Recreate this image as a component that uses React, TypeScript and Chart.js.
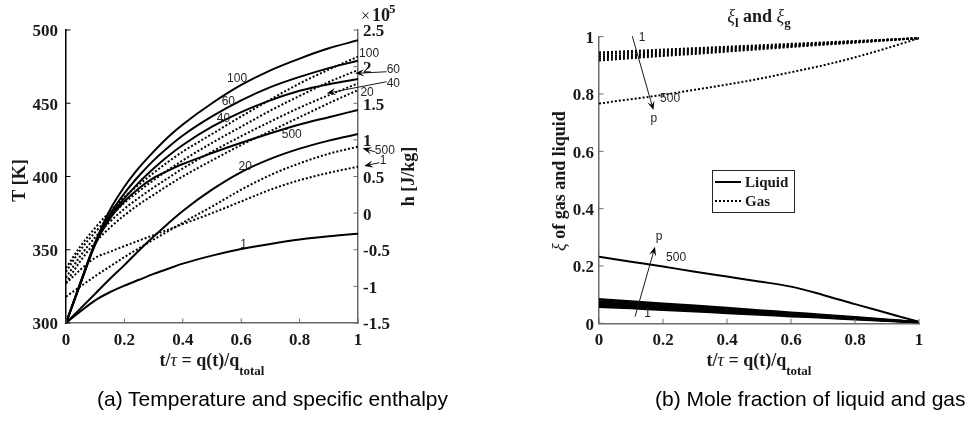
import React, { useEffect, useRef } from "react";
import { Chart, registerables } from "chart.js";

Chart.register(...registerables);

// ---------------- Panel (a) data ----------------
const X_A = [0, 0.05, 0.1, 0.15, 0.2, 0.25, 0.3, 0.35, 0.4, 0.5, 0.6, 0.7, 0.8, 0.9, 1];

// Temperature [K] for pressures 1, 20, 40, 60, 100, 500
const T_P1 = [300, 308, 315.5, 321, 325.5, 329.5, 333.5, 337, 340.5, 346, 350.5, 354, 357, 359.2, 361];
const T_P20 = [300, 310, 320, 330, 339.5, 349.5, 359, 368, 376.5, 391, 403, 412, 419, 424.5, 429];
const T_P40 = [300, 327.5, 354, 372.5, 385, 396, 405.5, 414, 421.5, 434, 444, 452, 458.5, 463, 466.5];
const T_P60 = [300, 327.5, 354.5, 374, 388.5, 400.5, 411, 420, 428, 441, 452, 461, 468, 474, 479];
const T_P100 = [300, 328, 355, 377, 393, 406, 417, 427, 435.5, 450, 462.5, 472.5, 480.5, 487.5, 493];
const T_P500 = [300, 327, 353.5, 371, 383, 392, 399, 404, 408.5, 416, 423, 429.5, 435.5, 440.5, 445.4];

// Specific enthalpy h [x1e5 J/kg]
const H_P1 = [-0.96, -0.77, -0.61, -0.53, -0.45, -0.375, -0.3, -0.225, -0.15, 0.0, 0.16, 0.32, 0.45, 0.55, 0.634];
const H_P20 = [-0.95, -0.65, -0.4, -0.2, -0.03, 0.12, 0.25, 0.38, 0.5, 0.72, 0.93, 1.12, 1.31, 1.5, 1.68];
const H_P40 = [-0.88, -0.58, -0.33, -0.12, 0.06, 0.21, 0.35, 0.48, 0.61, 0.84, 1.05, 1.25, 1.44, 1.61, 1.77];
const H_P60 = [-0.8, -0.5, -0.26, -0.05, 0.14, 0.3, 0.45, 0.59, 0.72, 0.96, 1.18, 1.4, 1.6, 1.79, 1.954];
const H_P100 = [-0.75, -0.45, -0.2, 0.02, 0.22, 0.39, 0.55, 0.7, 0.84, 1.08, 1.32, 1.55, 1.77, 1.96, 2.136];
const H_P500 = [-1.14, -1.0, -0.86, -0.73, -0.6, -0.48, -0.36, -0.245, -0.13, 0.09, 0.32, 0.52, 0.68, 0.81, 0.907];

const X_TICKS = [0, 0.2, 0.4, 0.6, 0.8, 1];
const T_TICKS = [300, 350, 400, 450, 500];
const H_TICKS = [-1.5, -1, -0.5, 0, 0.5, 1, 1.5, 2, 2.5];

// curve labels (data coords: x, T)
const A_LABELS = [
  { text: "100", x: 0.586, y: 466.5 },
  { text: "60", x: 0.556, y: 451 },
  { text: "40", x: 0.539, y: 439.7 },
  { text: "500", x: 0.773, y: 428.3 },
  { text: "20", x: 0.614, y: 406.5 },
  { text: "1", x: 0.608, y: 353.2 },
  { text: "100", x: 1.038, y: 484.1 },
  { text: "60", x: 1.121, y: 472.7 },
  { text: "40", x: 1.121, y: 463.6 },
  { text: "20", x: 1.031, y: 457.2 },
  { text: "500", x: 1.092, y: 417.4 },
  { text: "1", x: 1.086, y: 411.1 },
];
const A_ARROWS = [
  { x1: 1.098, y1: 471.5, x2: 0.99, y2: 470.4 },
  { x1: 1.098, y1: 464.7, x2: 0.893, y2: 456.8 },
  { x1: 1.058, y1: 416.9, x2: 1.016, y2: 419.2 },
  { x1: 1.073, y1: 409.4, x2: 1.021, y2: 407.2 },
];

// ---------------- Panel (b) data ----------------
const X_B = [0, 0.1, 0.2, 0.3, 0.4, 0.5, 0.6, 0.7, 0.8, 0.9, 1];

const GAS_P1 = [0.945, 0.95, 0.955, 0.96, 0.965, 0.97, 0.975, 0.98, 0.985, 0.99, 0.995];
const GAS_P20 = [0.938, 0.944, 0.949, 0.955, 0.961, 0.966, 0.972, 0.978, 0.984, 0.989, 0.995];
const GAS_P40 = [0.931, 0.937, 0.944, 0.95, 0.957, 0.963, 0.969, 0.976, 0.982, 0.989, 0.995];
const GAS_P60 = [0.924, 0.931, 0.938, 0.945, 0.952, 0.96, 0.967, 0.974, 0.981, 0.988, 0.995];
const GAS_P100 = [0.917, 0.925, 0.933, 0.94, 0.948, 0.956, 0.964, 0.972, 0.979, 0.987, 0.995];
const GAS_P500 = [0.767, 0.782, 0.797, 0.815, 0.833, 0.853, 0.876, 0.9, 0.928, 0.96, 0.995];

const LIQ_P1 = [0.058, 0.053, 0.047, 0.042, 0.036, 0.031, 0.025, 0.02, 0.014, 0.009, 0.004];
const LIQ_P20 = [0.064, 0.058, 0.052, 0.046, 0.04, 0.034, 0.028, 0.022, 0.016, 0.01, 0.004];
const LIQ_P40 = [0.07, 0.064, 0.057, 0.05, 0.044, 0.037, 0.031, 0.024, 0.017, 0.011, 0.004];
const LIQ_P60 = [0.076, 0.069, 0.062, 0.055, 0.048, 0.041, 0.034, 0.026, 0.019, 0.011, 0.004];
const LIQ_P100 = [0.084, 0.076, 0.068, 0.061, 0.053, 0.045, 0.037, 0.029, 0.021, 0.012, 0.004];
const LIQ_P500 = [0.232, 0.215, 0.198, 0.18, 0.163, 0.146, 0.128, 0.099, 0.067, 0.036, 0.005];

const XI_TICKS = [0, 0.2, 0.4, 0.6, 0.8, 1];

const B_LABELS = [
  { text: "1", x: 0.135, y: 0.998 },
  { text: "500", x: 0.222, y: 0.782 },
  { text: "p", x: 0.171, y: 0.713 },
  { text: "p", x: 0.1875, y: 0.302 },
  { text: "500", x: 0.241, y: 0.229 },
  { text: "1", x: 0.152, y: 0.032 },
];
const B_ARROWS = [
  { x1: 0.104, y1: 1.002, x2: 0.17, y2: 0.744 },
  { x1: 0.1125, y1: 0.023, x2: 0.175, y2: 0.267 },
];

// ---------------- styling helpers ----------------
const SERIF = "'Liberation Serif', 'Times New Roman', serif";
const SANS = "'Liberation Sans', Arial, sans-serif";
const TICK_FONT = { family: SERIF, size: 17, weight: "bold" as const };
const LABEL_FONT = `12px ${SANS}`;
const TXT = "#1a1a1a";

type Part = { t: string; font: string; dy?: number };

function drawParts(ctx: CanvasRenderingContext2D, parts: Part[], cx: number, baseline: number) {
  let w = 0;
  for (const p of parts) {
    ctx.font = p.font;
    w += ctx.measureText(p.t).width;
  }
  let x = cx - w / 2;
  ctx.textAlign = "left";
  ctx.textBaseline = "alphabetic";
  for (const p of parts) {
    ctx.font = p.font;
    ctx.fillText(p.t, x, baseline + (p.dy || 0));
    x += ctx.measureText(p.t).width;
  }
}

function drawRotated(ctx: CanvasRenderingContext2D, parts: Part[], cx: number, cy: number, off: number) {
  ctx.save();
  ctx.translate(cx, cy);
  ctx.rotate(-Math.PI / 2);
  drawParts(ctx, parts, 0, off);
  ctx.restore();
}

function drawArrow(ctx: CanvasRenderingContext2D, x1: number, y1: number, x2: number, y2: number) {
  const ang = Math.atan2(y2 - y1, x2 - x1);
  const head = 9;
  const hw = 3.6;
  const c = Math.cos(ang);
  const s = Math.sin(ang);
  ctx.beginPath();
  ctx.moveTo(x1, y1);
  ctx.lineTo(x2 - c * head * 0.6, y2 - s * head * 0.6);
  ctx.stroke();
  ctx.beginPath();
  ctx.moveTo(x2, y2);
  ctx.lineTo(x2 - c * head - s * hw, y2 - s * head + c * hw);
  ctx.lineTo(x2 - c * head * 0.6, y2 - s * head * 0.6);
  ctx.lineTo(x2 - c * head + s * hw, y2 - s * head - c * hw);
  ctx.closePath();
  ctx.fill();
}

function inwardTicks(ctx: CanvasRenderingContext2D, scale: any, values: number[], side: string, color: string) {
  const L = 4.5;
  ctx.save();
  ctx.strokeStyle = color;
  ctx.lineWidth = 1;
  for (const v of values) {
    const p = scale.getPixelForValue(v);
    ctx.beginPath();
    if (side === "bottom") {
      ctx.moveTo(p, scale.top);
      ctx.lineTo(p, scale.top - L);
    } else if (side === "left") {
      ctx.moveTo(scale.right, p);
      ctx.lineTo(scale.right + L, p);
    } else {
      ctx.moveTo(scale.left, p);
      ctx.lineTo(scale.left - L, p);
    }
    ctx.stroke();
  }
  ctx.restore();
}

function series(xs: number[], ys: number[], axis: string, dotted: boolean, name: string, width = 2) {
  return {
    label: name,
    data: xs.map((x, i) => ({ x, y: ys[i] })),
    yAxisID: axis,
    borderColor: "#000",
    borderWidth: width,
    borderDash: dotted ? [2, 2] : [],
    pointRadius: 0,
    fill: false,
    cubicInterpolationMode: "monotone" as const,
  };
}

function fixedTicks(values: number[]) {
  return (s: any) => {
    s.ticks = values.map((value) => ({ value }));
  };
}

// ---------------- plugins ----------------
const panelAPlugin = {
  id: "panelA",
  afterDraw(chart: any) {
    const ctx: CanvasRenderingContext2D = chart.ctx;
    const xs = chart.scales.x;
    const ys = chart.scales.y;
    const ys1 = chart.scales.y1;
    const ca = chart.chartArea;
    inwardTicks(ctx, xs, X_TICKS, "bottom", "#6b6b6b");
    inwardTicks(ctx, ys, T_TICKS, "left", "#000");
    inwardTicks(ctx, ys1, H_TICKS, "right", "#6b6b6b");

    ctx.save();
    ctx.fillStyle = "#262626";
    ctx.strokeStyle = "#1a1a1a";
    ctx.lineWidth = 1;
    ctx.font = LABEL_FONT;
    ctx.textAlign = "center";
    ctx.textBaseline = "middle";
    for (const l of A_LABELS) {
      ctx.fillText(l.text, xs.getPixelForValue(l.x), ys.getPixelForValue(l.y));
    }
    ctx.fillStyle = "#000";
    for (const a of A_ARROWS) {
      drawArrow(ctx, xs.getPixelForValue(a.x1), ys.getPixelForValue(a.y1), xs.getPixelForValue(a.x2), ys.getPixelForValue(a.y2));
    }

    ctx.fillStyle = TXT;
    // x axis title
    drawParts(
      ctx,
      [
        { t: "t/", font: `bold 18px ${SERIF}` },
        { t: "τ", font: `italic 18px ${SERIF}` },
        { t: " = q(t)/q", font: `bold 18px ${SERIF}` },
        { t: "total", font: `bold 13px ${SERIF}`, dy: 9 },
      ],
      (ca.left + ca.right) / 2,
      366
    );
    // y axis titles
    drawRotated(ctx, [{ t: "T [K]", font: `bold 18px ${SERIF}` }], 19, (ca.top + ca.bottom) / 2 + 4, 6);
    drawRotated(ctx, [{ t: "h [J/kg]", font: `bold 18px ${SERIF}` }], 408, (ca.top + ca.bottom) / 2, 6);
    // exponent
    ctx.textAlign = "left";
    ctx.textBaseline = "alphabetic";
    ctx.font = `16px ${SERIF}`;
    ctx.fillText("×", ca.right + 3, 21);
    ctx.font = `bold 18px ${SERIF}`;
    ctx.fillText("10", ca.right + 14, 21);
    ctx.font = `bold 13px ${SERIF}`;
    ctx.fillText("5", ca.right + 31, 13);
    ctx.restore();
  },
};

const panelBPlugin = {
  id: "panelB",
  afterDraw(chart: any) {
    const ctx: CanvasRenderingContext2D = chart.ctx;
    const xs = chart.scales.x;
    const ys = chart.scales.y;
    const ca = chart.chartArea;
    inwardTicks(ctx, xs, X_TICKS, "bottom", "#6b6b6b");
    inwardTicks(ctx, ys, XI_TICKS, "left", "#6b6b6b");

    ctx.save();
    ctx.fillStyle = "#262626";
    ctx.strokeStyle = "#1a1a1a";
    ctx.lineWidth = 1;
    ctx.font = LABEL_FONT;
    ctx.textAlign = "center";
    ctx.textBaseline = "middle";
    for (const l of B_LABELS) {
      ctx.fillText(l.text, xs.getPixelForValue(l.x), ys.getPixelForValue(l.y));
    }
    ctx.fillStyle = "#000";
    for (const a of B_ARROWS) {
      drawArrow(ctx, xs.getPixelForValue(a.x1), ys.getPixelForValue(a.y1), xs.getPixelForValue(a.x2), ys.getPixelForValue(a.y2));
    }

    // legend
    const bx = 227;
    const by = 170;
    const bw = 82;
    const bh = 42;
    ctx.fillStyle = "#fff";
    ctx.fillRect(bx, by, bw, bh);
    ctx.strokeStyle = "#262626";
    ctx.lineWidth = 1;
    ctx.strokeRect(bx + 0.5, by + 0.5, bw, bh);
    ctx.strokeStyle = "#000";
    ctx.lineWidth = 2;
    ctx.beginPath();
    ctx.moveTo(bx + 3, by + 12);
    ctx.lineTo(bx + 29, by + 12);
    ctx.stroke();
    ctx.setLineDash([2, 2]);
    ctx.beginPath();
    ctx.moveTo(bx + 3, by + 31);
    ctx.lineTo(bx + 29, by + 31);
    ctx.stroke();
    ctx.setLineDash([]);
    ctx.fillStyle = TXT;
    ctx.font = `bold 15px ${SERIF}`;
    ctx.textAlign = "left";
    ctx.textBaseline = "alphabetic";
    ctx.fillText("Liquid", bx + 33, by + 17);
    ctx.fillText("Gas", bx + 33, by + 36);

    // titles
    drawParts(
      ctx,
      [
        { t: "ξ", font: `italic 18px ${SERIF}` },
        { t: "l", font: `bold 13px ${SERIF}`, dy: 5 },
        { t: " and ", font: `bold 18px ${SERIF}` },
        { t: "ξ", font: `italic 18px ${SERIF}` },
        { t: "g", font: `bold 13px ${SERIF}`, dy: 5 },
      ],
      (ca.left + ca.right) / 2,
      22
    );
    drawParts(
      ctx,
      [
        { t: "t/", font: `bold 18px ${SERIF}` },
        { t: "τ", font: `italic 18px ${SERIF}` },
        { t: " = q(t)/q", font: `bold 18px ${SERIF}` },
        { t: "total", font: `bold 13px ${SERIF}`, dy: 9 },
      ],
      (ca.left + ca.right) / 2,
      366
    );
    drawRotated(
      ctx,
      [
        { t: "ξ", font: `italic 18px ${SERIF}` },
        { t: " of gas and liquid", font: `bold 18px ${SERIF}` },
      ],
      74,
      181,
      6
    );
    ctx.restore();
  },
};

function axisBase(color: string) {
  return {
    type: "linear" as const,
    grid: { display: false, drawTicks: false },
    border: { display: true, color, width: 1.5 },
  };
}

function leftConfig(): any {
  return {
    type: "line",
    data: {
      datasets: [
        series(X_A, T_P1, "y", false, "T p=1"),
        series(X_A, T_P20, "y", false, "T p=20"),
        series(X_A, T_P40, "y", false, "T p=40"),
        series(X_A, T_P60, "y", false, "T p=60"),
        series(X_A, T_P100, "y", false, "T p=100"),
        series(X_A, T_P500, "y", false, "T p=500"),
        series(X_A, H_P1, "y1", true, "h p=1"),
        series(X_A, H_P20, "y1", true, "h p=20"),
        series(X_A, H_P40, "y1", true, "h p=40"),
        series(X_A, H_P60, "y1", true, "h p=60"),
        series(X_A, H_P100, "y1", true, "h p=100"),
        series(X_A, H_P500, "y1", true, "h p=500"),
      ],
    },
    options: {
      responsive: false,
      animation: false,
      devicePixelRatio: 1,
      layout: { padding: { top: 30, left: 0, right: 0, bottom: 0 } },
      plugins: { legend: { display: false }, tooltip: { enabled: false } },
      scales: {
        x: {
          ...axisBase("#6b6b6b"),
          position: "bottom",
          min: 0,
          max: 1,
          afterBuildTicks: fixedTicks(X_TICKS),
          ticks: { font: TICK_FONT, color: TXT, padding: 7, maxRotation: 0, callback: (v: number) => String(v) },
          afterFit: (s: any) => {
            s.height = 102;
          },
        },
        y: {
          ...axisBase("#000"),
          position: "left",
          min: 300,
          max: 500,
          afterBuildTicks: fixedTicks(T_TICKS),
          ticks: { font: TICK_FONT, color: TXT, padding: 8, labelOffset: 2, callback: (v: number) => String(v) },
          afterFit: (s: any) => {
            s.width = 66;
          },
        },
        y1: {
          ...axisBase("#6b6b6b"),
          position: "right",
          min: -1.5,
          max: 2.5,
          afterBuildTicks: fixedTicks(H_TICKS),
          ticks: { font: TICK_FONT, color: TXT, padding: 5, labelOffset: 2, callback: (v: number) => String(v) },
          afterFit: (s: any) => {
            s.width = 127;
          },
        },
      },
    },
    plugins: [panelAPlugin],
  };
}

function rightConfig(): any {
  return {
    type: "line",
    data: {
      datasets: [
        series(X_B, GAS_P1, "y", true, "Gas p=1"),
        series(X_B, GAS_P20, "y", true, "Gas p=20"),
        series(X_B, GAS_P40, "y", true, "Gas p=40"),
        series(X_B, GAS_P60, "y", true, "Gas p=60"),
        series(X_B, GAS_P100, "y", true, "Gas p=100"),
        series(X_B, GAS_P500, "y", true, "Gas p=500"),
        series(X_B, LIQ_P1, "y", false, "Liquid p=1", 2.5),
        series(X_B, LIQ_P20, "y", false, "Liquid p=20", 2.5),
        series(X_B, LIQ_P40, "y", false, "Liquid p=40", 2.5),
        series(X_B, LIQ_P60, "y", false, "Liquid p=60", 2.5),
        series(X_B, LIQ_P100, "y", false, "Liquid p=100", 2.5),
        series(X_B, LIQ_P500, "y", false, "Liquid p=500"),
      ],
    },
    options: {
      responsive: false,
      animation: false,
      devicePixelRatio: 1,
      layout: { padding: { top: 36.7, left: 0, right: 51, bottom: 0 } },
      plugins: { legend: { display: false }, tooltip: { enabled: false } },
      scales: {
        x: {
          ...axisBase("#6b6b6b"),
          position: "bottom",
          min: 0,
          max: 1,
          afterBuildTicks: fixedTicks(X_TICKS),
          ticks: { font: TICK_FONT, color: TXT, padding: 7, maxRotation: 0, callback: (v: number) => String(v) },
          afterFit: (s: any) => {
            s.height = 101.7;
          },
        },
        y: {
          ...axisBase("#6b6b6b"),
          position: "left",
          min: 0,
          max: 1,
          afterBuildTicks: fixedTicks(XI_TICKS),
          ticks: { font: TICK_FONT, color: TXT, padding: 5, labelOffset: 2, callback: (v: number) => String(v) },
          afterFit: (s: any) => {
            s.width = 114;
          },
        },
      },
    },
    plugins: [panelBPlugin],
  };
}

export default function App() {
  const leftRef = useRef<HTMLCanvasElement>(null);
  const rightRef = useRef<HTMLCanvasElement>(null);

  useEffect(() => {
    document.body.style.margin = "0";
    const c1 = new Chart(leftRef.current as HTMLCanvasElement, leftConfig());
    const c2 = new Chart(rightRef.current as HTMLCanvasElement, rightConfig());
    return () => {
      c1.destroy();
      c2.destroy();
    };
  }, []);

  const cap: React.CSSProperties = {
    position: "absolute",
    top: 388,
    font: `21px ${SANS}`,
    lineHeight: "21px",
    whiteSpace: "nowrap",
    color: "#000",
  };

  return (
    <div style={{ position: "relative", width: 970, height: 425, background: "#fff", overflow: "hidden" }}>
      <canvas ref={leftRef} width={485} height={425} style={{ position: "absolute", left: 0, top: 0, width: 485, height: 425 }} />
      <canvas ref={rightRef} width={485} height={425} style={{ position: "absolute", left: 485, top: 0, width: 485, height: 425 }} />
      <div style={{ ...cap, left: 97 }}>(a) Temperature and specific enthalpy</div>
      <div style={{ ...cap, left: 655 }}>(b) Mole fraction of liquid and gas</div>
    </div>
  );
}
